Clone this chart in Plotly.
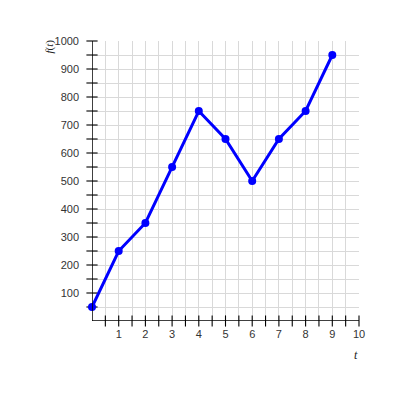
import numpy as np
import plotly.graph_objects as go

# data
t_vals = [0, 1, 2, 3, 4, 5, 6, 7, 8, 9]
f_vals = [50, 250, 350, 550, 750, 650, 500, 650, 750, 950]

x_ticks = [1, 2, 3, 4, 5, 6, 7, 8, 9, 10]
y_ticks = [100, 200, 300, 400, 500, 600, 700, 800, 900, 1000]

grid_col = "#d9d9d9"
label_font = dict(family="Liberation Sans, Arial", size=11, color="#333333")

fig = go.Figure()

# tick marks crossing the axes (every half step / every 50)
xt = np.arange(0.5, 10.01, 0.5)
yt = np.arange(50, 1000.1, 50)
fig.add_trace(go.Scatter(x=xt, y=[0] * len(xt), mode="markers", cliponaxis=False,
                         marker=dict(symbol="line-ns-open", size=8, color="black",
                                     line=dict(color="black", width=1.1)),
                         hoverinfo="skip", showlegend=False))
fig.add_trace(go.Scatter(x=[0] * len(yt), y=yt, mode="markers", cliponaxis=False,
                         marker=dict(symbol="line-ew-open", size=8, color="black",
                                     line=dict(color="black", width=1.1)),
                         hoverinfo="skip", showlegend=False))

# the function
fig.add_trace(go.Scatter(x=t_vals, y=f_vals, mode="lines+markers", cliponaxis=False,
                         line=dict(color="#0000ff", width=3),
                         marker=dict(color="#0000ff", size=8),
                         showlegend=False))

fig.update_xaxes(range=[0, 10], tickvals=x_ticks, ticks="", tickfont=label_font,
                 showgrid=True, gridcolor=grid_col, gridwidth=1,
                 minor=dict(dtick=0.5, showgrid=True, gridcolor=grid_col, gridwidth=1),
                 zeroline=False, showline=False, ticklabelstandoff=5)
fig.update_yaxes(range=[0, 1000], tickvals=y_ticks, ticks="", tickfont=label_font,
                 showgrid=True, gridcolor=grid_col, gridwidth=1,
                 minor=dict(dtick=50, showgrid=True, gridcolor=grid_col, gridwidth=1),
                 zeroline=False, showline=False, ticklabelstandoff=12)

# axes with arrows
fig.add_shape(type="line", x0=0, y0=0, x1=10.2, y1=0, line=dict(color="black", width=1.5))
fig.add_shape(type="line", x0=0, y0=0, x1=0, y1=1015, line=dict(color="black", width=1.5))
fig.add_annotation(x=10.35, y=0, ax=-12, ay=0, showarrow=True, arrowhead=2,
                   arrowsize=1.2, arrowwidth=1.5, arrowcolor="black", text="")
fig.add_annotation(x=0, y=1022, ax=0, ay=12, showarrow=True, arrowhead=2,
                   arrowsize=1.2, arrowwidth=1.5, arrowcolor="black", text="")

# axis titles
fig.add_annotation(text="<i>f</i>(<i>t</i>)", x=0, xref="paper", xshift=-52, y=1000, yshift=-6,
                   textangle=-90, showarrow=False,
                   font=dict(family="Liberation Serif, Times New Roman", size=11, color="#222222"))
fig.add_annotation(text="<i>t</i>", x=10, y=0, xshift=-3, yshift=-34, showarrow=False,
                   font=dict(family="Liberation Serif, Times New Roman", size=12, color="#222222"))

fig.update_layout(width=400, height=400, margin=dict(l=84, r=49, t=33, b=87),
                  plot_bgcolor="white", paper_bgcolor="white")

fig.write_html("out.html")
